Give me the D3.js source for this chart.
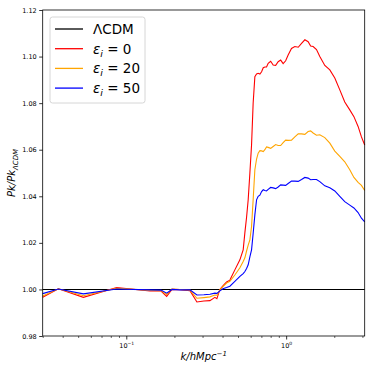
<!DOCTYPE html>
<html>
<head>
<meta charset="utf-8">
<script src="https://cdn.jsdelivr.net/npm/d3@7"></script>
<style>
  body { margin: 0; background: #fff; }
  text { font-family: "DejaVu Sans", sans-serif; }
</style>
</head>
<body>
<script>
// wavenumbers shared by all series (h/Mpc)
const kValues = [0.0300, 0.0376, 0.0539, 0.0871, 0.1406, 0.165, 0.1789, 0.1930, 0.2166, 0.2501,
  0.2765, 0.3059, 0.3336, 0.3583, 0.3688, 0.3851, 0.4021, 0.4241, 0.4447, 0.4777,
  0.5136, 0.5385, 0.5519, 0.5655, 0.5788, 0.5931, 0.6075, 0.6217, 0.6372, 0.6531,
  0.6683, 0.685, 0.7021, 0.719, 0.7360, 0.754, 0.7720, 0.800, 0.8294, 0.860,
  0.8913, 0.924, 0.9577, 0.993, 1.0292, 1.080, 1.1334, 1.190, 1.2482, 1.309,
  1.3725, 1.423, 1.4750, 1.548, 1.6238, 1.745, 1.8757, 2.015, 2.1657, 2.326,
  2.5003, 2.654, 2.8184, 2.958, 3.1000];

const eps0 = [0.9966, 1.0003, 0.9966, 1.0008, 0.9993, 0.9993, 0.9970, 1.0000, 0.9999, 0.9995,
  0.9946, 0.9950, 0.9952, 0.9966, 0.9960, 1.0000, 1.0015, 1.0032, 1.0040, 1.0084,
  1.0127, 1.0170, 1.0244, 1.0310, 1.0385, 1.0500, 1.0620, 1.0800, 1.0914, 1.0925,
  1.0928, 1.0925, 1.0935, 1.0952, 1.0955, 1.0955, 1.0971, 1.0980, 1.0964, 1.0962,
  1.0978, 1.0985, 1.0970, 1.0982, 1.1007, 1.1035, 1.1043, 1.1040, 1.1057, 1.1072,
  1.1064, 1.1045, 1.1043, 1.1030, 1.1000, 1.0962, 1.0943, 1.0908, 1.0857, 1.0805,
  1.0771, 1.0742, 1.0700, 1.0655, 1.0620];

const eps20 = [0.9972, 1.0003, 0.9973, 1.0005, 0.9996, 0.9995, 0.9978, 1.0002, 1.0000, 0.9997,
  0.9962, 0.9965, 0.9968, 0.9976, 0.9975, 0.9998, 1.0012, 1.0027, 1.0035, 1.0062,
  1.0093, 1.0120, 1.0136, 1.0165, 1.0190, 1.0213, 1.0270, 1.0385, 1.0514, 1.0560,
  1.0585, 1.0596, 1.0595, 1.0592, 1.0600, 1.0612, 1.0610, 1.0606, 1.0614, 1.0622,
  1.0618, 1.0618, 1.0630, 1.0641, 1.0640, 1.0641, 1.0655, 1.0668, 1.0668, 1.0666,
  1.0678, 1.0681, 1.0672, 1.0662, 1.0664, 1.0652, 1.0628, 1.0594, 1.0571, 1.0548,
  1.0514, 1.0481, 1.0460, 1.0447, 1.0425];

const eps50 = [0.9982, 1.0002, 0.9981, 1.0002, 0.9998, 0.9997, 0.9984, 1.0000, 0.9998, 0.9998,
  0.9976, 0.9977, 0.9979, 0.9984, 0.9983, 0.9994, 1.0003, 1.0008, 1.0014, 1.0035,
  1.0056, 1.0068, 1.0077, 1.0090, 1.0106, 1.0140, 1.0170, 1.0240, 1.0320, 1.0385,
  1.0400, 1.0405, 1.0420, 1.0428, 1.0425, 1.0423, 1.0430, 1.0438, 1.0436, 1.0433,
  1.0440, 1.0449, 1.0448, 1.0447, 1.0455, 1.0465, 1.0465, 1.0464, 1.0472, 1.0481,
  1.0478, 1.0471, 1.0472, 1.0472, 1.0463, 1.0445, 1.0437, 1.0423, 1.0400, 1.0377,
  1.0362, 1.0350, 1.0330, 1.0306, 1.0290];

const yTicks = [0.98, 1.00, 1.02, 1.04, 1.06, 1.08, 1.10, 1.12];

const width = 374, height = 374;
const margin = { top: 10, right: 9.3, bottom: 38, left: 42.7 };

const svg = d3.select("body").append("svg")
  .attr("width", width)
  .attr("height", height);

const x = d3.scaleLog()
  .domain([0.030, 3.1])
  .range([margin.left, width - margin.right]);

const y = d3.scaleLinear()
  .domain([0.98, 1.12])
  .range([height - margin.bottom, margin.top]);

// y axis
svg.append("g")
  .attr("transform", `translate(${margin.left},0)`)
  .call(d3.axisLeft(y).tickValues(yTicks).tickFormat(d3.format(".2f")).tickSize(3.5).tickPadding(2.5))
  .call(g => g.select(".domain").remove())
  .call(g => g.selectAll("line").attr("stroke", "#000").attr("stroke-width", 0.8))
  .call(g => g.selectAll("text").attr("font-size", 6.5).attr("fill", "#000").attr("font-family", "DejaVu Sans"));

// x axis: minor ticks
const minor = [];
for (const dec of [0.01, 0.1, 1]) {
  for (let m = 2; m <= 9; m++) {
    const v = m * dec;
    if (v >= 0.030 && v <= 3.1) minor.push(v);
  }
}
svg.append("g")
  .attr("transform", `translate(0,${height - margin.bottom})`)
  .call(d3.axisBottom(x).tickValues(minor).tickFormat("").tickSize(2))
  .call(g => g.select(".domain").remove())
  .call(g => g.selectAll("line").attr("stroke", "#000").attr("stroke-width", 0.6));

const xMajor = svg.append("g")
  .attr("transform", `translate(0,${height - margin.bottom})`)
  .call(d3.axisBottom(x).tickValues([0.1, 1]).tickFormat("").tickSize(3.5))
  .call(g => g.select(".domain").remove())
  .call(g => g.selectAll("line").attr("stroke", "#000").attr("stroke-width", 0.8));

xMajor.selectAll(".tick").each(function(d) {
  const t = d3.select(this).append("text")
    .attr("y", 12)
    .attr("text-anchor", "middle")
    .attr("font-size", 6.5)
    .attr("fill", "#000");
  t.append("tspan").text("10");
  t.append("tspan").attr("dy", -3).attr("font-size", 4.5).text(d === 1 ? "0" : "\u22121");
});

// data lines
const line = d3.line()
  .x(d => x(d[0]))
  .y(d => y(d[1]));

svg.append("line")
  .attr("x1", x(0.030)).attr("x2", x(3.1))
  .attr("y1", y(1)).attr("y2", y(1))
  .attr("stroke", "#000").attr("stroke-width", 1.1);

const series = [
  { vals: eps0, color: "red" },
  { vals: eps20, color: "orange" },
  { vals: eps50, color: "blue" }
];
series.forEach(s => {
  svg.append("path")
    .datum(kValues.map((k, i) => [k, s.vals[i]]))
    .attr("d", line)
    .attr("fill", "none")
    .attr("stroke", s.color)
    .attr("stroke-width", 1.1);
});

// frame
svg.append("rect")
  .attr("x", margin.left).attr("y", margin.top)
  .attr("width", width - margin.left - margin.right)
  .attr("height", height - margin.top - margin.bottom)
  .attr("fill", "none").attr("stroke", "#000").attr("stroke-width", 0.8);

// axis labels
svg.append("text")
  .attr("x", (margin.left + width - margin.right) / 2)
  .attr("y", 360)
  .attr("text-anchor", "middle")
  .attr("font-size", 10)
  .attr("font-style", "italic")
  .call(t => {
    t.append("tspan").text("k/hMpc");
    t.append("tspan").attr("dy", -4).attr("font-size", 7).text("\u22121");
  });

svg.append("text")
  .attr("transform", `translate(15,${(margin.top + height - margin.bottom) / 2}) rotate(-90)`)
  .attr("text-anchor", "middle")
  .attr("font-size", 10)
  .attr("font-style", "italic")
  .call(t => {
    t.append("tspan").text("Pk/Pk");
    t.append("tspan").attr("dy", 2.5).attr("font-size", 7).text("\u039BCDM");
  });

// legend
const legend = svg.append("g").attr("transform", "translate(50,17)");
legend.append("rect")
  .attr("width", 95).attr("height", 86)
  .attr("rx", 2.5)
  .attr("fill", "#fff").attr("fill-opacity", 0.8)
  .attr("stroke", "#ccc").attr("stroke-width", 0.8);

const legendItems = [
  { color: "#000", label: "\u039BCDM", sub: null },
  { color: "red", label: "\u03B5", sub: "0" },
  { color: "orange", label: "\u03B5", sub: "20" },
  { color: "blue", label: "\u03B5", sub: "50" }
];
legendItems.forEach((d, i) => {
  const row = legend.append("g").attr("transform", `translate(0,${12 + i * 19.7})`);
  row.append("line")
    .attr("x1", 5).attr("x2", 33)
    .attr("stroke", d.color).attr("stroke-width", 1.3);
  const t = row.append("text")
    .attr("x", 43).attr("y", 5)
    .attr("font-size", 13.5);
  if (d.sub === null) {
    t.text(d.label);
  } else {
    t.append("tspan").attr("font-style", "italic").text(d.label);
    t.append("tspan").attr("font-style", "italic").attr("font-size", 9.5).attr("dy", 3).text("i");
    t.append("tspan").attr("dy", -3).text(" = " + d.sub);
  }
});
</script>
</body>
</html>
